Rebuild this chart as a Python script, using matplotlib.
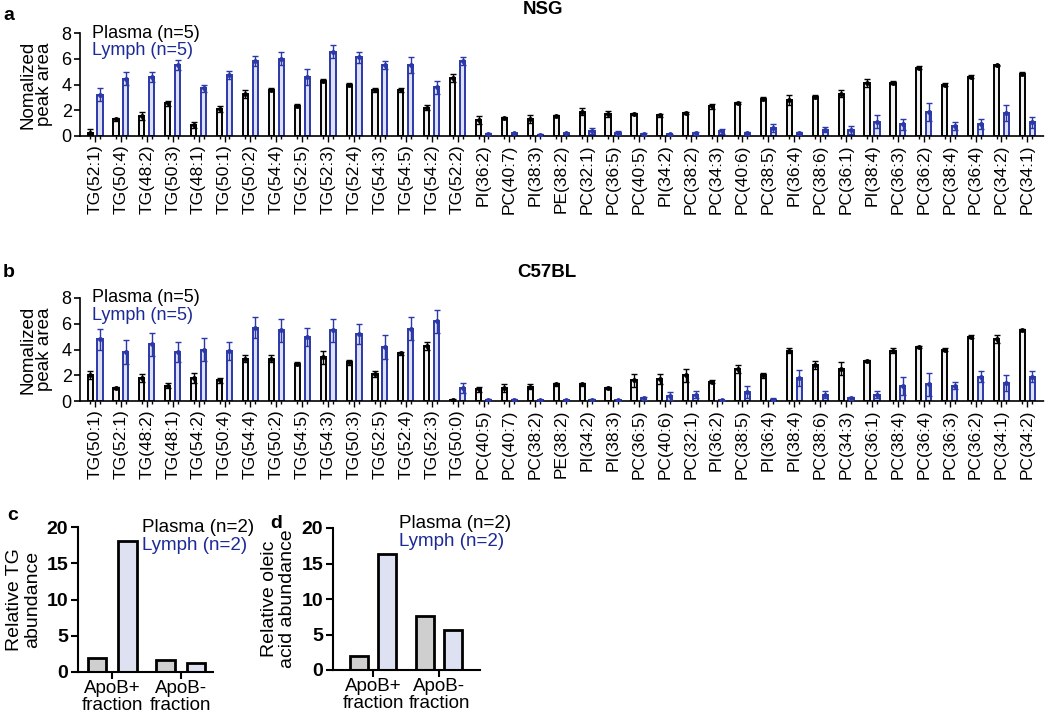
import numpy as np
import matplotlib
matplotlib.use("Agg")
import matplotlib.pyplot as plt

plt.rcParams['font.family'] = ['Liberation Sans', 'DejaVu Sans']

# ---- data ----
nsg_labels = ['TG(52:1)', 'TG(50:4)', 'TG(48:2)', 'TG(50:3)', 'TG(48:1)', 'TG(50:1)', 'TG(50:2)',
              'TG(54:4)', 'TG(52:5)', 'TG(52:3)', 'TG(52:4)', 'TG(54:3)', 'TG(54:5)', 'TG(54:2)',
              'TG(52:2)', 'PI(36:2)', 'PC(40:7)', 'PI(38:3)', 'PE(38:2)', 'PC(32:1)', 'PC(36:5)',
              'PC(40:5)', 'PI(34:2)', 'PC(38:2)', 'PC(34:3)', 'PC(40:6)', 'PC(38:5)', 'PI(36:4)',
              'PC(38:6)', 'PC(36:1)', 'PI(38:4)', 'PC(36:3)', 'PC(36:2)', 'PC(38:4)', 'PC(36:4)',
              'PC(34:2)', 'PC(34:1)']
nsg_plasma = [0.26, 1.3, 1.55, 2.55, 0.85, 2.1, 3.25, 3.6, 2.35, 4.3, 4.0, 3.6, 3.6, 2.2, 4.5,
              1.25, 1.4, 1.3, 1.55, 1.9, 1.7, 1.7, 1.6, 1.8, 2.3, 2.55, 2.9, 2.8, 3.05, 3.3,
              4.1, 4.15, 5.3, 4.0, 4.6, 5.5, 4.85]
nsg_plasma_sd = [0.3, 0.1, 0.3, 0.2, 0.2, 0.2, 0.3, 0.1, 0.1, 0.1, 0.1, 0.15, 0.15, 0.2, 0.3,
                 0.3, 0.1, 0.3, 0.1, 0.3, 0.25, 0.1, 0.1, 0.1, 0.2, 0.1, 0.1, 0.4, 0.1, 0.3,
                 0.3, 0.1, 0.1, 0.1, 0.1, 0.05, 0.15]
nsg_lymph = [3.2, 4.45, 4.6, 5.5, 3.7, 4.75, 5.85, 6.0, 4.6, 6.55, 6.1, 5.5, 5.5, 3.8, 5.8,
             0.15, 0.2, 0.08, 0.2, 0.4, 0.25, 0.15, 0.12, 0.2, 0.35, 0.2, 0.6, 0.2, 0.5, 0.45,
             1.1, 0.9, 1.9, 0.75, 0.95, 1.8, 1.05]
nsg_lymph_sd = [0.5, 0.5, 0.4, 0.4, 0.3, 0.3, 0.4, 0.5, 0.6, 0.5, 0.4, 0.3, 0.6, 0.5, 0.3,
                0.05, 0.05, 0.05, 0.05, 0.25, 0.15, 0.05, 0.05, 0.1, 0.2, 0.1, 0.3, 0.1, 0.2, 0.3,
                0.5, 0.4, 0.7, 0.3, 0.4, 0.6, 0.4]

c57_labels = ['TG(50:1)', 'TG(52:1)', 'TG(48:2)', 'TG(48:1)', 'TG(54:2)', 'TG(50:4)', 'TG(54:4)',
              'TG(50:2)', 'TG(54:5)', 'TG(54:3)', 'TG(50:3)', 'TG(52:5)', 'TG(52:4)', 'TG(52:3)',
              'TG(50:0)', 'PC(40:5)', 'PC(40:7)', 'PC(38:2)', 'PE(38:2)', 'PI(34:2)', 'PI(38:3)',
              'PC(36:5)', 'PC(40:6)', 'PC(32:1)', 'PI(36:2)', 'PC(38:5)', 'PI(36:4)', 'PI(38:4)',
              'PC(38:6)', 'PC(34:3)', 'PC(36:1)', 'PC(38:4)', 'PC(36:4)', 'PC(36:3)', 'PC(36:2)',
              'PC(34:1)', 'PC(34:2)']
c57_plasma = [2.0, 1.0, 1.8, 1.2, 1.8, 1.6, 3.3, 3.3, 2.9, 3.4, 3.0, 2.1, 3.7, 4.3, 0.1,
              0.9, 1.0, 1.1, 1.3, 1.3, 1.0, 1.6, 1.7, 2.0, 1.5, 2.5, 2.0, 3.9, 2.8, 2.5, 3.1,
              3.9, 4.2, 4.0, 5.0, 4.8, 5.5]
c57_plasma_sd = [0.3, 0.05, 0.3, 0.2, 0.4, 0.2, 0.3, 0.3, 0.1, 0.5, 0.2, 0.2, 0.1, 0.3, 0.05,
                 0.2, 0.3, 0.2, 0.1, 0.1, 0.1, 0.5, 0.4, 0.5, 0.1, 0.3, 0.2, 0.2, 0.3, 0.5, 0.1,
                 0.2, 0.1, 0.1, 0.1, 0.3, 0.1]
c57_lymph = [4.8, 3.8, 4.4, 3.8, 4.0, 3.9, 5.7, 5.5, 5.0, 5.5, 5.2, 4.2, 5.6, 6.2, 1.0,
             0.1, 0.1, 0.05, 0.05, 0.1, 0.05, 0.2, 0.4, 0.5, 0.05, 0.7, 0.1, 1.8, 0.5, 0.2, 0.5,
             1.2, 1.3, 1.2, 1.9, 1.4, 1.9]
c57_lymph_sd = [0.8, 0.9, 0.9, 0.8, 0.9, 0.7, 0.8, 0.9, 0.7, 0.9, 0.8, 0.9, 0.9, 0.9, 0.4,
                0.05, 0.05, 0.05, 0.05, 0.05, 0.05, 0.1, 0.3, 0.3, 0.05, 0.5, 0.1, 0.6, 0.3, 0.1, 0.3,
                0.7, 0.9, 0.3, 0.4, 0.6, 0.4]

frac_labels = ['ApoB+\nfraction', 'ApoB-\nfraction']
tg_plasma = [2.0, 1.7]
tg_lymph = [18.1, 1.3]
oleic_plasma = [2.0, 7.6]
oleic_lymph = [16.3, 5.7]

BLUE = '#2b38a8'
BLUE_TXT = '#1c2a96'
LYMPH_FILL = '#dde1f1'
PLASMA_FILL = '#f2f2f2'

W, H = 1050, 716
fig = plt.figure(figsize=(W / 100, H / 100), dpi=100)


def ax_px(l, t, r, b):
    return fig.add_axes([l / W, 1 - b / H, (r - l) / W, (b - t) / H])


def lipid_panel(ax, labels, plasma, plasma_sd, lymph, lymph_sd):
    x = np.arange(len(labels))
    off, w = 0.19, 0.2
    ax.bar(x - off, plasma, w, color=PLASMA_FILL, edgecolor='black', linewidth=1.4, zorder=2)
    ax.bar(x + off, lymph, w, color=LYMPH_FILL, edgecolor=BLUE, linewidth=1.4, zorder=2)
    ax.errorbar(x - off, plasma, yerr=plasma_sd, fmt='o', ms=2.5, color='black',
                elinewidth=1, capsize=2, capthick=1, zorder=3)
    ax.errorbar(x + off, lymph, yerr=lymph_sd, fmt='o', ms=2.5, color=BLUE,
                elinewidth=1, capsize=2, capthick=1, zorder=3)
    ax.set_xlim(-0.58, len(labels) - 0.32)
    ax.set_ylim(0, 8)
    ax.set_yticks([0, 2, 4, 6, 8])
    ax.set_xticks(x)
    ax.set_xticklabels(labels, rotation=90, fontsize=12.5)
    ax.set_xticks(np.concatenate([x - off, x + off]), minor=True)
    ax.tick_params(axis='x', which='major', length=4, width=1, pad=2)
    ax.tick_params(axis='x', which='minor', length=2, width=1)
    ax.tick_params(axis='y', labelsize=13, length=4, width=1.2, pad=2)
    for s in ['top', 'right']:
        ax.spines[s].set_visible(False)
    ax.spines['left'].set_linewidth(1.2)
    ax.spines['bottom'].set_linewidth(1.2)
    ax.spines['bottom'].set_linestyle((0, (2, 1)))
    ax.set_ylabel('Nomalized\npeak area', fontsize=13.5, labelpad=6, linespacing=1.0)
    ax.text(12 / 965, 1.0, 'Plasma (n=5)', transform=ax.transAxes, fontsize=13,
            va='center', ha='left')
    ax.text(12 / 965, 0.83, 'Lymph (n=5)', transform=ax.transAxes, fontsize=13,
            va='center', ha='left', color=BLUE_TXT)


ax_a = ax_px(80, 33, 1045, 136)
lipid_panel(ax_a, nsg_labels, nsg_plasma, nsg_plasma_sd, nsg_lymph, nsg_lymph_sd)
fig.text(3 / W, 1 - 15 / H, 'a', fontsize=14, fontweight='bold', va='center')
fig.text(543 / W, 1 - 10 / H, 'NSG', fontsize=13.5, fontweight='bold', va='center', ha='center')

ax_b = ax_px(80, 298, 1045, 401)
lipid_panel(ax_b, c57_labels, c57_plasma, c57_plasma_sd, c57_lymph, c57_lymph_sd)
fig.text(3 / W, 1 - 272 / H, 'b', fontsize=14, fontweight='bold', va='center')
fig.text(547 / W, 1 - 272 / H, 'C57BL', fontsize=13.5, fontweight='bold', va='center', ha='center')


def fraction_panel(ax, plasma, lymph, off, w, xlim, ylabel):
    x = np.arange(len(plasma))
    ax.bar(x - off, plasma, w, color='#cfcfcf', edgecolor='black', linewidth=2, zorder=2)
    ax.bar(x + off, lymph, w, color=LYMPH_FILL, edgecolor='black', linewidth=2, zorder=2)
    ax.set_xlim(*xlim)
    ax.set_ylim(0, 20)
    ax.set_yticks([0, 5, 10, 15, 20])
    ax.set_xticks(x)
    ax.set_xticklabels(frac_labels, fontsize=13.5, linespacing=1.0)
    for t in ax.get_yticklabels():
        t.set_fontweight('bold')
    ax.tick_params(axis='y', labelsize=14, length=5, width=1.5, pad=2)
    ax.tick_params(axis='x', length=5, width=1.5, pad=1)
    for s in ['top', 'right']:
        ax.spines[s].set_visible(False)
    ax.spines['left'].set_linewidth(1.5)
    ax.spines['bottom'].set_linewidth(1.5)
    ax.set_ylabel(ylabel, fontsize=14, linespacing=1.05, labelpad=4)


ax_c = ax_px(78, 527, 213, 672)
fraction_panel(ax_c, tg_plasma, tg_lymph, 0.22, 0.27, (-0.50, 1.47), 'Relative TG\nabundance')
fig.text(7 / W, 1 - 515 / H, 'c', fontsize=14, fontweight='bold', va='center')
fig.text(142 / W, 1 - 527 / H, 'Plasma (n=2)', fontsize=13.5, va='center')
fig.text(142 / W, 1 - 545 / H, 'Lymph (n=2)', fontsize=13.5, va='center', color=BLUE_TXT)

ax_d = ax_px(333, 528, 480, 670)
fraction_panel(ax_d, oleic_plasma, oleic_lymph, 0.21, 0.27, (-0.61, 1.62),
               'Relative oleic\nacid abundance')
fig.text(270 / W, 1 - 523 / H, 'd', fontsize=14, fontweight='bold', va='center')
fig.text(399 / W, 1 - 524 / H, 'Plasma (n=2)', fontsize=13.5, va='center')
fig.text(399 / W, 1 - 542 / H, 'Lymph (n=2)', fontsize=13.5, va='center', color=BLUE_TXT)

fig.savefig('out.png', dpi=100)
